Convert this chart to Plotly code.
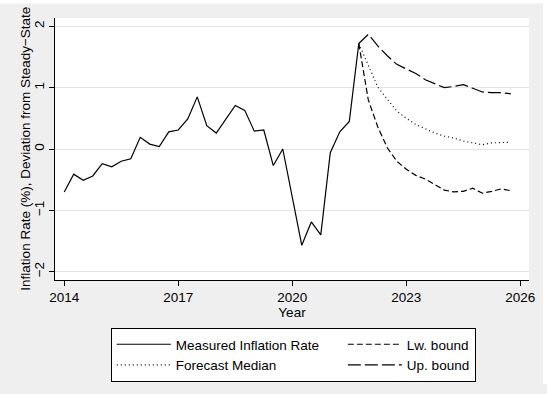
import plotly.graph_objects as go

# Quarterly observations (decimal years), 2014q1 - 2021q4
measured_t = [2014.00, 2014.25, 2014.50, 2014.75, 2015.00, 2015.25, 2015.50, 2015.75,
              2016.00, 2016.25, 2016.50, 2016.75, 2017.00, 2017.25, 2017.50, 2017.75,
              2018.00, 2018.25, 2018.50, 2018.75, 2019.00, 2019.25, 2019.50, 2019.75,
              2020.00, 2020.25, 2020.50, 2020.75, 2021.00, 2021.25, 2021.50, 2021.75]
measured = [-0.70, -0.41, -0.51, -0.44, -0.24, -0.29, -0.20, -0.16,
            0.19, 0.08, 0.04, 0.28, 0.31, 0.49, 0.85, 0.38,
            0.26, 0.49, 0.71, 0.63, 0.29, 0.31, -0.27, 0.00,
            -0.78, -1.57, -1.19, -1.40, -0.06, 0.28, 0.45, 1.72]

# Forecast horizon, 2021q4 - 2025q4
forecast_t = [2021.75, 2022.00, 2022.25, 2022.50, 2022.75, 2023.00, 2023.25, 2023.50,
              2023.75, 2024.00, 2024.25, 2024.50, 2024.75, 2025.00, 2025.25, 2025.50,
              2025.75]
median = [1.72, 1.35, 1.01, 0.81, 0.62, 0.50, 0.40, 0.33,
          0.26, 0.21, 0.18, 0.13, 0.10, 0.07, 0.10, 0.11, 0.11]
lower = [1.72, 0.80, 0.36, 0.02, -0.20, -0.33, -0.43, -0.49,
         -0.58, -0.67, -0.70, -0.69, -0.64, -0.72, -0.69, -0.65, -0.68]
upper = [1.72, 1.87, 1.68, 1.52, 1.38, 1.30, 1.23, 1.13,
         1.06, 1.00, 1.02, 1.05, 0.99, 0.93, 0.92, 0.92, 0.90]

x_ticks = [2014, 2017, 2020, 2023, 2026]
y_ticks = [-2, -1, 0, 1, 2]
y_tick_text = ["\u22122", "\u22121", "0", "1", "2"]
y_title = "Inflation Rate (%), Deviation from Steady\u2212State"

FONT = "Liberation Sans, Arial, Helvetica, sans-serif"
BG = "#efefef"
W, H = 547, 394
ML, MR, MT, MB = 55, 16, 18, 103
PW, PH = W - ML - MR, H - MT - MB
NBSP = "\u00a0"


def px_x(p):
    return (p - ML) / PW


def px_y(p):
    return (H - MB - p) / PH


fig = go.Figure()
line_w = 1.2
# the first legend column is widened so the second column sits further right
fig.add_trace(go.Scatter(x=measured_t, y=measured, mode="lines",
                         name="Measured Inflation Rate" + NBSP * 5,
                         line=dict(color="black", width=line_w)))
fig.add_trace(go.Scatter(x=forecast_t, y=lower, mode="lines",
                         name="Lw. bound",
                         line=dict(color="black", width=line_w, dash="6px,3px")))
fig.add_trace(go.Scatter(x=forecast_t, y=median, mode="lines",
                         name="Forecast Median",
                         line=dict(color="black", width=line_w, dash="1px,3px")))
fig.add_trace(go.Scatter(x=forecast_t, y=upper, mode="lines",
                         name="Up. bound",
                         line=dict(color="black", width=line_w, dash="13px,4px")))

fig.update_layout(
    width=W, height=H,
    margin=dict(l=ML, r=MR, t=MT, b=MB, pad=0),
    paper_bgcolor=BG, plot_bgcolor="white",
    font=dict(family=FONT, size=13.5, color="black"),
    showlegend=True,
    legend=dict(
        orientation="h",
        x=px_x(111), y=px_y(341), xanchor="left", yanchor="top",
        bgcolor="white", bordercolor="black", borderwidth=1,
        font=dict(family=FONT, size=13.5, color="black"),
        itemwidth=54, tracegroupgap=0,
        traceorder="normal",
    ),
    xaxis=dict(
        range=[2013.757, 2026.228], tickmode="array", tickvals=x_ticks,
        ticks="outside", ticklen=5, tickwidth=1, tickcolor="black",
        showline=True, linecolor="black", linewidth=1,
        showgrid=False, zeroline=False,
        title=dict(text="Year", standoff=2, font=dict(size=13.5)),
    ),
    yaxis=dict(
        range=[-2.136, 2.136], tickmode="array", tickvals=y_ticks,
        ticktext=y_tick_text, tickangle=-90,
        ticks="outside", ticklen=5, tickwidth=1, tickcolor="black",
        showline=True, linecolor="black", linewidth=1,
        showgrid=True, gridcolor="#e4e4e4", gridwidth=1, zeroline=False,
    ),
    annotations=[
        dict(text=y_title, xref="paper", yref="paper",
             x=px_x(25), y=px_y(154), xanchor="center", yanchor="middle",
             textangle=-90, showarrow=False,
             font=dict(family=FONT, size=13.5, color="black")),
    ],
    shapes=[
        # thin white frame along the top and right edges of the page
        dict(type="rect", xref="paper", yref="paper",
             x0=px_x(-5), x1=px_x(W + 5), y0=px_y(3), y1=px_y(-5),
             fillcolor="white", line=dict(width=0), layer="below"),
        dict(type="rect", xref="paper", yref="paper",
             x0=px_x(545), x1=px_x(W + 5), y0=px_y(H + 5), y1=px_y(-5),
             fillcolor="white", line=dict(width=0), layer="below"),
    ],
)

fig.write_html("out.html")
